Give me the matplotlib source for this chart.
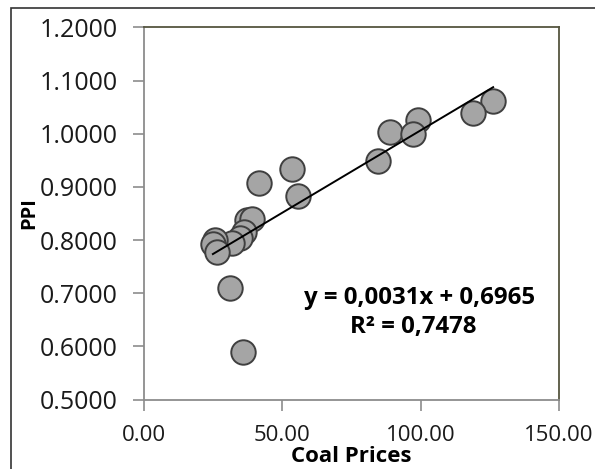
import matplotlib
matplotlib.use("Agg")
import matplotlib.pyplot as plt
import numpy as np
from matplotlib.patches import Rectangle

# coal price vs producer price index
coal = [53.4, 41.7, 55.8, 37.2, 39.0, 36.1, 34.7, 31.8, 25.7, 24.9, 26.4,
        31.1, 35.7, 126.2, 119.0, 98.9, 88.9, 97.3, 84.5]
ppi = [0.933, 0.907, 0.883, 0.838, 0.840, 0.815, 0.804, 0.795, 0.800, 0.793, 0.778,
       0.709, 0.590, 1.062, 1.039, 1.026, 1.003, 1.000, 0.949]

slope, intercept = 0.0031, 0.6965
r2 = 0.7478
x_ticks = [0, 50, 100, 150]
y_ticks = [0.5, 0.6, 0.7, 0.8, 0.9, 1.0, 1.1, 1.2]

plt.rcParams["font.family"] = ["Open Sans", "DejaVu Sans"]

fig = plt.figure(figsize=(5.95, 4.69), dpi=100)
ax = fig.add_axes([144 / 595, 1 - 399.5 / 469, 415 / 595, 372 / 469])

ax.scatter(coal, ppi, s=310, facecolor="#a5a5a5", edgecolor="#3f3f3f",
           linewidth=1.4, zorder=3)

xs = np.array([min(coal), max(coal)])
ax.plot(xs, slope * xs + intercept, color="black", lw=1.4, zorder=4)

ax.set_xlim(0, 150)
ax.set_ylim(0.5, 1.2)
ax.set_xticks(x_ticks)
ax.set_xticklabels([f"{v:.2f}" for v in x_ticks])
ax.set_yticks(y_ticks)
ax.set_yticklabels([f"{v:.4f}" for v in y_ticks])
ax.tick_params(axis="both", color="#8c8c8c", length=8, width=1.2,
               labelcolor="#1a1a1a")
ax.tick_params(axis="y", labelsize=18, pad=11)
ax.tick_params(axis="x", labelsize=16, pad=10)

for side in ("left", "bottom"):
    ax.spines[side].set_color("#8c8c8c")
    ax.spines[side].set_linewidth(1.3)
for side in ("top", "right"):
    ax.spines[side].set_color("#55553f")
    ax.spines[side].set_linewidth(1.3)

ax.set_xlabel("Coal Prices", fontsize=16, fontweight="bold", labelpad=0)
ax.set_ylabel("PPI", fontsize=14.5, fontweight="bold")
ax.yaxis.set_label_coords(-(144 - 39) / 415, 0.5)

ax.text(0.665, 0.273, f"y = {slope:.4f}x + {intercept:.4f}".replace(".", ","),
        transform=ax.transAxes, ha="center", va="center", fontsize=17.3,
        fontweight="bold")
ax.text(0.65, 0.195, f"R² = {r2:.4f}".replace(".", ","),
        transform=ax.transAxes, ha="center", va="center", fontsize=17.3,
        fontweight="bold")

# outer frame, only its top and left edges fall inside the canvas
fig.patches.append(Rectangle((11 / 595, -0.1), 1.2, 1 - 8.5 / 469 + 0.1,
                             transform=fig.transFigure, fill=False,
                             edgecolor="#333333", lw=1.2))

fig.savefig("out.png", dpi=100)
